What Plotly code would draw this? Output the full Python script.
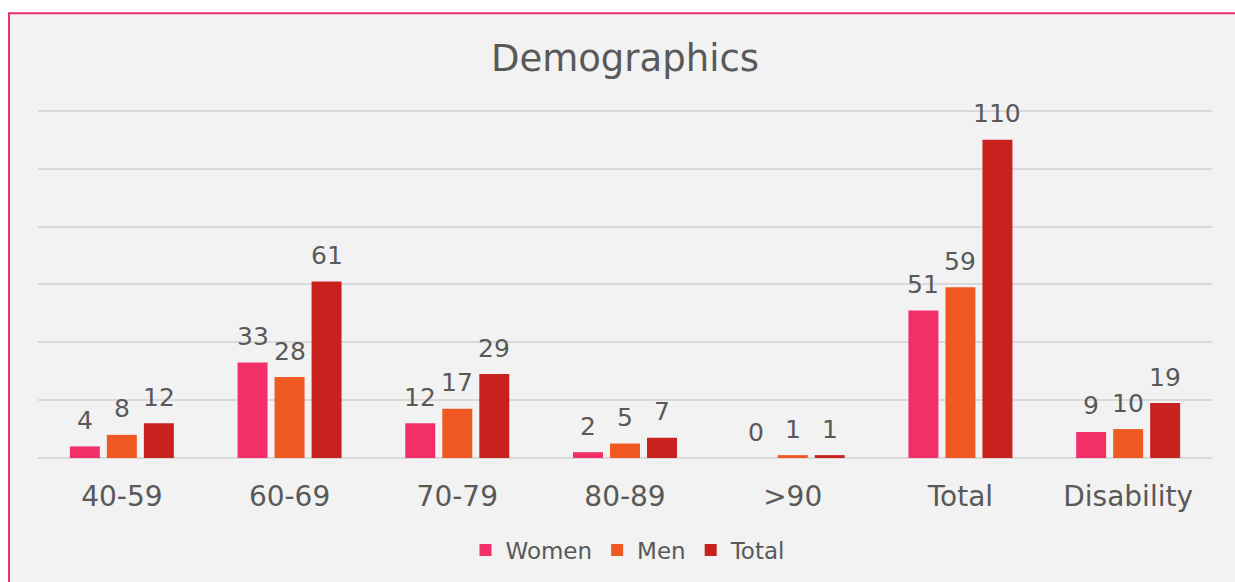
import plotly.graph_objects as go

categories = ["40-59", "60-69", "70-79", "80-89", ">90", "Total", "Disability"]
women = [4, 33, 12, 2, 0, 51, 9]
men = [8, 28, 17, 5, 1, 59, 10]
total = [12, 61, 29, 7, 1, 110, 19]

series = [("Women", women, "#F23067"), ("Men", men, "#F05A22"), ("Total", total, "#C8221E")]
txt = "#595959"
font = "DejaVu Sans, Verdana, sans-serif"

W, H = 1235, 582
L, R, T, B = 38, W - 1212, 108, H - 459
pw, ph = W - L - R, H - T - B

def px(x):
    return (x - L) / pw

def py(y):
    return (H - B - y) / ph

fig = go.Figure()
shifts = [-37, 0, 37]
for (name, vals, col), xs in zip(series, shifts):
    fig.add_trace(go.Bar(
        x=categories, y=vals, name=name, marker_color=col,
        marker_line_width=0, hoverinfo="skip",
    ))
    for c, v in zip(categories, vals):
        fig.add_annotation(x=c, y=v, text=str(v), showarrow=False,
                           xshift=xs, yshift=26, yanchor="middle", xanchor="center",
                           font=dict(size=25, color=txt, family=font))

fig.add_shape(type="rect", xref="paper", yref="paper",
              x0=px(9), x1=px(1260), y0=py(620), y1=py(13),
              fillcolor="#F2F2F2", line=dict(color="#F23067", width=2), layer="below")

fig.update_layout(
    width=W, height=H,
    margin=dict(l=L, r=R, t=T, b=B),
    paper_bgcolor="white", plot_bgcolor="rgba(0,0,0,0)",
    barmode="group", bargap=0.338, bargroupgap=0.19,
    title=dict(text="Demographics", x=px(625), xanchor="center", xref="paper",
               y=1 - 58 / H, yanchor="middle",
               font=dict(size=37, color=txt, family=font)),
    font=dict(family=font, color=txt),
    legend=dict(orientation="h", x=px(628), xanchor="center", y=py(550), yanchor="middle",
                font=dict(size=23, color=txt, family=font), bgcolor="rgba(0,0,0,0)",
                itemwidth=30, tracegroupgap=0),
    showlegend=True,
)
fig.update_yaxes(range=[0, 121], dtick=20, showgrid=True, gridcolor="#D9D9D9", gridwidth=2,
                 showticklabels=False, zeroline=True, zerolinecolor="#D9D9D9", zerolinewidth=2,
                 fixedrange=True)
fig.update_xaxes(showgrid=False, showline=False, ticks="",
                 tickfont=dict(size=28, color=txt, family=font), ticklabelstandoff=19)

fig.write_html("out.html", config={"displayModeBar": False},
               post_script="document.body.style.margin='0';document.body.style.overflow='hidden';")
